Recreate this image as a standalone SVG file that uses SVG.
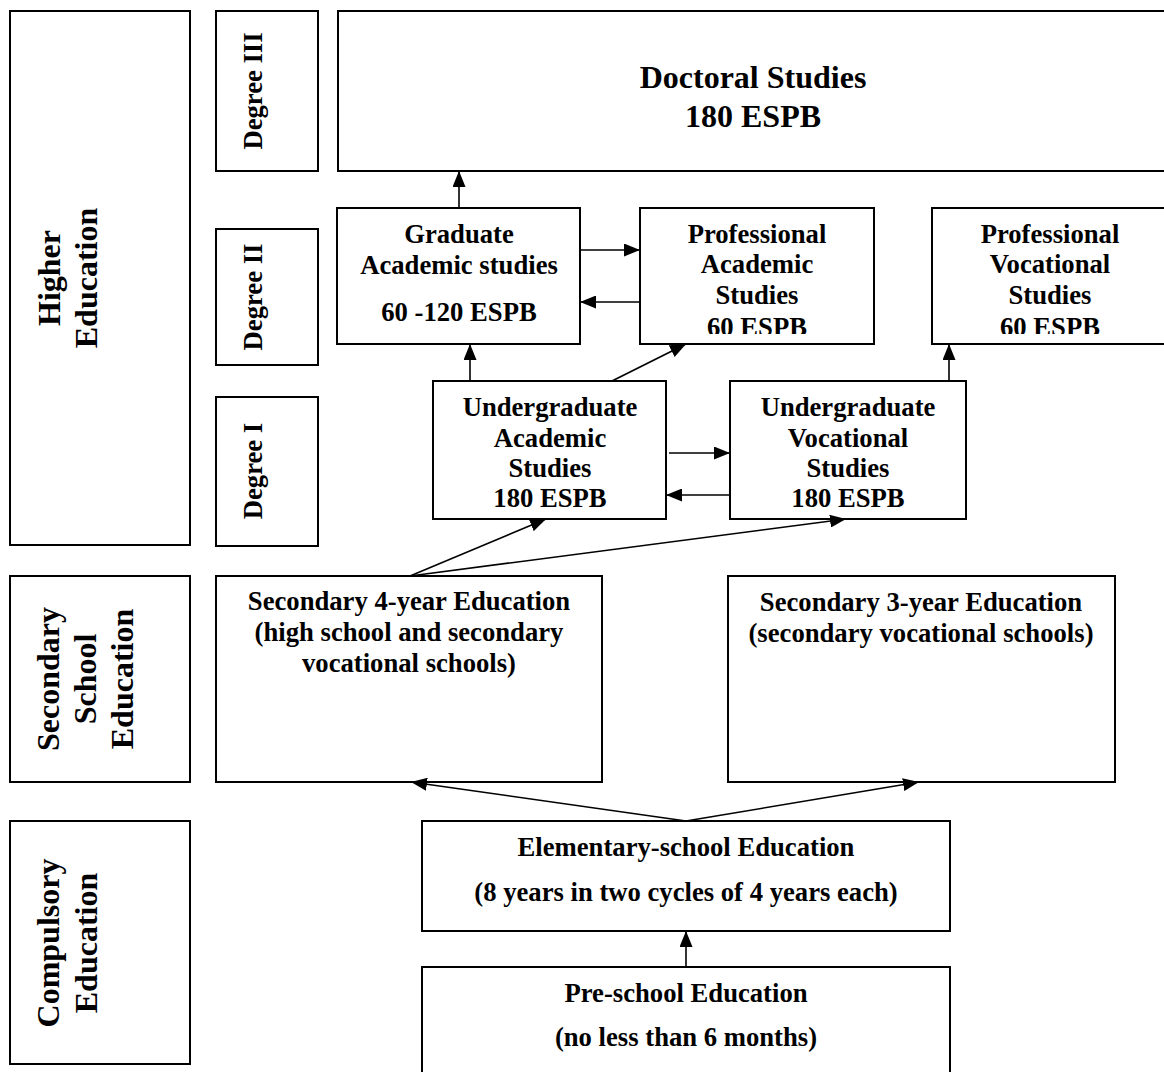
<svg xmlns="http://www.w3.org/2000/svg" width="1164" height="1072" viewBox="0 0 1164 1072">
<style>
.box{fill:#fff;stroke:#000;stroke-width:2}
.t{font-family:"Liberation Serif","Times New Roman",serif;font-weight:bold;font-size:26.67px;fill:#000;text-anchor:middle}
.big{font-size:32px}
.c{fill:none;stroke:#000;stroke-width:1.6}
</style>
<defs>
<marker id="ah" markerUnits="userSpaceOnUse" markerWidth="16" markerHeight="13" refX="16" refY="6.5" orient="auto">
<path d="M0,0 L16,6.5 L0,13 z" fill="#000"/>
</marker>
<clipPath id="clipPA"><rect x="640" y="208" width="234" height="126"/></clipPath>
<clipPath id="clipPV"><rect x="932" y="208" width="240" height="126"/></clipPath>
</defs>
<rect width="1164" height="1072" fill="#fff"/>

<g id="higher-education">
<rect class="box" x="10" y="11" width="180" height="534"/>
<text class="t big" transform="translate(60,278) rotate(-90)">Higher</text>
<text class="t big" transform="translate(97,278) rotate(-90)">Education</text>
</g>
<g id="degree-3">
<rect class="box" x="216" y="11" width="102" height="160"/>
<text class="t" transform="translate(262,91) rotate(-90)">Degree III</text>
</g>
<g id="degree-2">
<rect class="box" x="216" y="229" width="102" height="136"/>
<text class="t" transform="translate(262,297) rotate(-90)">Degree II</text>
</g>
<g id="degree-1">
<rect class="box" x="216" y="397" width="102" height="149"/>
<text class="t" transform="translate(262,471) rotate(-90)">Degree I</text>
</g>
<g id="secondary-school">
<rect class="box" x="10" y="576" width="180" height="206"/>
<text class="t big" transform="translate(59,679) rotate(-90)">Secondary</text>
<text class="t big" transform="translate(96,679) rotate(-90)">School</text>
<text class="t big" transform="translate(133,679) rotate(-90)">Education</text>
</g>
<g id="compulsory">
<rect class="box" x="10" y="821" width="180" height="243"/>
<text class="t big" transform="translate(59,943) rotate(-90)">Compulsory</text>
<text class="t big" transform="translate(97,943) rotate(-90)">Education</text>
</g>

<g id="doctoral">
<rect class="box" x="338" y="11" width="830" height="160"/>
<text class="t big" x="753" y="88">Doctoral Studies</text>
<text class="t big" x="753" y="127">180 ESPB</text>
</g>
<g id="graduate-academic">
<rect class="box" x="337" y="208" width="243" height="136"/>
<text class="t" x="459" y="243">Graduate</text>
<text class="t" x="459" y="274">Academic studies</text>
<text class="t" x="459" y="321">60 -120 ESPB</text>
</g>
<g id="professional-academic">
<rect class="box" x="640" y="208" width="234" height="136"/>
<g clip-path="url(#clipPA)">
<text class="t" x="757" y="243">Professional</text>
<text class="t" x="757" y="273">Academic</text>
<text class="t" x="757" y="304">Studies</text>
<text class="t" x="757" y="336">60 ESPB</text>
</g>
</g>
<g id="professional-vocational">
<rect class="box" x="932" y="208" width="237" height="136"/>
<g clip-path="url(#clipPV)">
<text class="t" x="1050" y="243">Professional</text>
<text class="t" x="1050" y="273">Vocational</text>
<text class="t" x="1050" y="304">Studies</text>
<text class="t" x="1050" y="336">60 ESPB</text>
</g>
</g>
<g id="undergraduate-academic">
<rect class="box" x="433" y="381" width="233" height="138"/>
<text class="t" x="550" y="416">Undergraduate</text>
<text class="t" x="550" y="447">Academic</text>
<text class="t" x="550" y="477">Studies</text>
<text class="t" x="550" y="507">180 ESPB</text>
</g>
<g id="undergraduate-vocational">
<rect class="box" x="730" y="381" width="236" height="138"/>
<text class="t" x="848" y="416">Undergraduate</text>
<text class="t" x="848" y="447">Vocational</text>
<text class="t" x="848" y="477">Studies</text>
<text class="t" x="848" y="507">180 ESPB</text>
</g>
<g id="secondary-4">
<rect class="box" x="216" y="576" width="386" height="206"/>
<text class="t" x="409" y="610">Secondary 4-year Education</text>
<text class="t" x="409" y="641">(high school and secondary</text>
<text class="t" x="409" y="672">vocational schools)</text>
</g>
<g id="secondary-3">
<rect class="box" x="728" y="576" width="387" height="206"/>
<text class="t" x="921" y="611">Secondary 3-year Education</text>
<text class="t" x="921" y="642">(secondary vocational schools)</text>
</g>
<g id="elementary">
<rect class="box" x="422" y="821" width="528" height="110"/>
<text class="t" x="686" y="856">Elementary-school Education</text>
<text class="t" x="686" y="901">(8 years in two cycles of 4 years each)</text>
</g>
<g id="preschool">
<rect class="box" x="422" y="967" width="528" height="120"/>
<text class="t" x="686" y="1002">Pre-school Education</text>
<text class="t" x="686" y="1046">(no less than 6 months)</text>
</g>

<g id="connectors">
<line class="c" x1="459" y1="208" x2="459" y2="171" marker-end="url(#ah)"/>
<line class="c" x1="580" y1="250" x2="640" y2="250" marker-end="url(#ah)"/>
<line class="c" x1="640" y1="302" x2="580" y2="302" marker-end="url(#ah)"/>
<line class="c" x1="470" y1="381" x2="470" y2="344" marker-end="url(#ah)"/>
<line class="c" x1="612" y1="381" x2="686" y2="344" marker-end="url(#ah)"/>
<line class="c" x1="669" y1="453" x2="730" y2="453" marker-end="url(#ah)"/>
<line class="c" x1="730" y1="495" x2="666" y2="495" marker-end="url(#ah)"/>
<line class="c" x1="949" y1="381" x2="949" y2="344" marker-end="url(#ah)"/>
<line class="c" x1="410" y1="576" x2="546" y2="519" marker-end="url(#ah)"/>
<line class="c" x1="410" y1="576" x2="846" y2="519" marker-end="url(#ah)"/>
<line class="c" x1="686" y1="821" x2="411" y2="782" marker-end="url(#ah)"/>
<line class="c" x1="686" y1="821" x2="919" y2="782" marker-end="url(#ah)"/>
<line class="c" x1="686" y1="967" x2="686" y2="931" marker-end="url(#ah)"/>
</g>
</svg>
